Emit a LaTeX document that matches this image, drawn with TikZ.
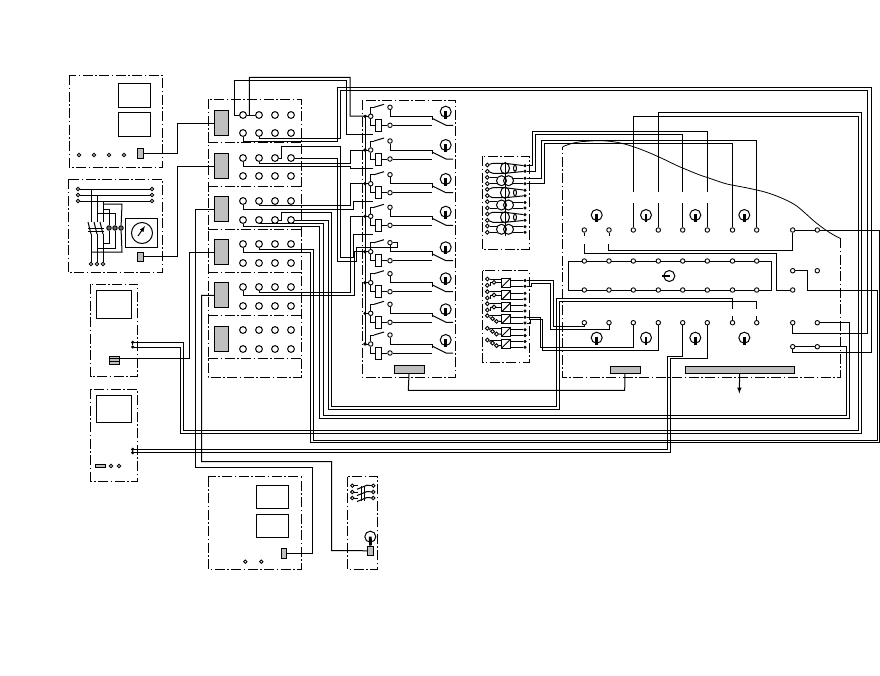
\documentclass[tikz,border=0pt]{standalone}
\tikzset{
 wire/.style={line width=1pt},
 dd/.style={line width=0.9pt,dash pattern=on 10pt off 2.5pt on 1.5pt off 2.5pt},
 term/.style={circle,draw,line width=0.9pt,fill=white,inner sep=0pt,minimum size=4.5pt},
 mterm/.style={circle,draw,line width=1pt,fill=white,inner sep=0pt,minimum size=6.8pt},
 dterm/.style={circle,draw,fill=black,inner sep=0pt,minimum size=2.8pt},
 lampc/.style={circle,draw,line width=1pt,inner sep=0pt,minimum size=11pt},
 stem/.style={line width=2.8pt},
 grayblk/.style={rectangle,draw,line width=0.9pt,fill=black!25,inner sep=0pt},
 sq/.style={draw,line width=1pt},
}
\begin{document}
\begin{tikzpicture}[x=1pt,y=-1pt]
\useasboundingbox[fill=white] (0,0) rectangle (880,675);
% ---- dash-dot boxes
\draw[dd] (69,75) rectangle (162,167);
\draw[dd] (68,179) rectangle (162,272);
\draw[dd] (90.7,284.3) rectangle (137.7,376.7);
\draw[dd] (90.7,389.3) rectangle (137.7,481);
\draw[dd] (208,99) rectangle (301,377);
\foreach \y in {142,186.5,229,272,315,358} \draw[dd] (208,\y) -- (301,\y);
\draw[dd] (362.3,100) rectangle (455,377);
\draw[dd] (482.7,156) rectangle (529,249.3);
\draw[dd] (482.7,270.7) rectangle (529,362.7);
\draw[dd] (208.3,476.7) rectangle (301,569.3);
\draw[dd] (347.3,476.7) rectangle (377.7,569.3);
\draw[dd] (840,238.3) -- (840,377.3) -- (562.7,377.3) -- (562.7,146.7);
\draw[line width=0.8pt] (562.7,146.7) .. controls (570,143.5) and (578,141.5) .. (586.7,141.3)
  .. controls (595,140.5) and (603,140.5) .. (610,141.3)
  .. controls (620,142.5) and (627,144.5) .. (633.3,146.7)
  .. controls (642,149.5) and (650,153) .. (658.3,156.7)
  .. controls (667,160.5) and (675,165) .. (683.3,168.3)
  .. controls (691,171.5) and (699,175) .. (706.7,177.3)
  .. controls (715,180) and (723,183.5) .. (731.7,185)
  .. controls (740,186.5) and (748,188) .. (756.7,190)
  .. controls (764,191.5) and (770,193.5) .. (776.7,196)
  .. controls (784,199) and (791,202) .. (796.7,206)
  .. controls (804,211.5) and (810,218) .. (816.7,223.3)
  .. controls (824,229) and (831,234) .. (840,238.3);
% ---- plain rectangles
\draw[sq] (118,83) rectangle (150,107);
\draw[sq] (118,112) rectangle (150,136);
\draw[sq] (96.7,290.7) rectangle (131.7,318.3);
\draw[sq] (96.7,395.3) rectangle (131.7,422.7);
\draw[sq] (256.7,485) rectangle (288.7,508.3);
\draw[sq] (256.7,514) rectangle (288.7,537.3);
\draw[sq] (125,218) rectangle (157,247);
\draw[sq] (568.3,261) rectangle (771,290);
% ---- gray blocks
\foreach \n/\y in {1/110,2/153,3/196,4/239,5/282,6/326}
  \draw[grayblk] (214,\y) rectangle (228,\y+25);
\node[grayblk,minimum width=6pt,minimum height=10pt] (conA) at (140,153) {};
\node[grayblk,minimum width=6pt,minimum height=9pt] (conB) at (140,256.5) {};
\node[grayblk,minimum width=10pt,minimum height=8.7pt] (conG) at (114.3,360.3) {};
\draw[wire] (109.3,358.3) -- (119.3,358.3) (109.3,361) -- (119.3,361);
\node[grayblk,minimum width=10.4pt,minimum height=3pt] (barF) at (100.5,465.8) {};
\node[grayblk,minimum width=5pt,minimum height=10pt] (conH) at (284.2,553.3) {};
\node[grayblk,minimum width=5.6pt,minimum height=9.7pt] (conI) at (370.5,550.8) {};
\node[grayblk,minimum width=30.3pt,minimum height=7.6pt] (barD) at (409.2,369.5) {};
\node[grayblk,minimum width=30pt,minimum height=7.4pt] (barJ) at (625,370) {};
\node[grayblk,minimum width=108.7pt,minimum height=7.4pt] (barK) at (739.7,370) {};
% ---- terminals of the main block
\foreach \s/\ya/\yb in {1/115/133,2/158/176,3/201/220,4/244/263,5/287/306,6/330/349}
 \foreach \c/\x in {1/243,2/259,3/275,4/291}{
  \node[mterm] (m\s a\c) at (\x,\ya) {};
  \node[mterm] (m\s b\c) at (\x,\yb) {};
 }
% ---- box A, B small terminals
\foreach \n/\x in {1/79,2/94,3/109,4/124} \node[term,minimum size=3.4pt] (ta\n) at (\x,155) {};
\foreach \n/\y in {1/189,2/195,3/201}{
  \node[term,minimum size=3.4pt] (bl\n) at (78,\y) {};
  \node[term,minimum size=3.4pt] (br\n) at (152,\y) {};
  \draw[wire] (bl\n) -- (br\n);
}
\foreach \n/\x in {1/91,2/97,3/103} \node[term,minimum size=3.4pt] (bb\n) at (\x,264) {};
\foreach \n/\x in {1/109,2/115,3/121} \node[term,minimum size=4.5pt,fill=black!60] (bc\n) at (\x,228) {};
\foreach \n/\x in {1/91,2/97,3/103}{
  \draw[wire] (\x,\ifnum\n=1 189\else\ifnum\n=2 195\else 201\fi\fi) -- (\x,222);
  \draw[wire] (\x-3,222) -- (\x,234);
  \draw[wire] (\x,234) -- (bb\n);
}
\draw[wire] (88,228) -- (104,228) (88,231) -- (104,231);
\draw[wire] (103,204) -- (122,204) -- (bc3) -- (122,252) -- (91,252);
\draw[wire] (97,213) -- (115,213) -- (bc2) -- (115,248) -- (97,248);
\draw[wire] (103,209) -- (109,209) -- (bc1) -- (109,243) -- (103,243);
\node[circle,draw,line width=1pt,inner sep=0pt,minimum size=21pt] (dial) at (142,233) {};
\draw[wire,->,>=latex] (138,236) -- (145,226);
% ---- wires of boxes A, B, G, H, I to the gray blocks
\coordinate (gi1) at (214,123); \coordinate (gi2) at (214,166);
\coordinate (gi3) at (214,209); \coordinate (gi4) at (214,252);
\coordinate (gi5) at (214,295.3);
\draw[wire] (conA) -- (177,153) -- (177,123) -- (gi1);
\draw[wire] (conB) -- (177,256.5) -- (177,166) -- (gi2);
\draw[wire] (conG.east) ++(0,-2) -- (189.3,358.3) -- (189.3,252) -- (gi4);
\draw[wire] (gi3) -- (195,209) -- (195,467.5) -- (312.7,467.5) -- (312.7,553.3) -- (conH);
\draw[wire] (gi5) -- (201.7,295.3) -- (201.7,461.5) -- (331.7,461.5) -- (331.7,550.5) -- (conI);
% ---- box G, F, H, I terminals
\node[dterm] (g1) at (132.7,342.3) {};
\node[dterm] (g2) at (132.7,347) {};
\draw[wire] (g1) -- (g2);
\node[dterm] (f1) at (132.7,449.3) {};
\node[dterm] (f2) at (132.7,452.7) {};
\node[term,minimum size=3.4pt] (f3) at (111,466) {};
\node[term,minimum size=3.4pt] (f4) at (119,466) {};
\node[term,minimum size=3.4pt] (h1) at (245.3,561.7) {};
\node[term,minimum size=3.4pt] (h2) at (261.3,561.7) {};
\foreach \n/\y in {1/485.7,2/492,3/498}{
  \node[term,minimum size=3.4pt] (il\n) at (352.3,\y) {};
  \node[term,minimum size=3.4pt] (ir\n) at (373.3,\y) {};
  \draw[wire] (il\n) -- (358,\y);
  \draw[wire] (357,\y+3.5) -- (367,\y-0.5) -- (ir\n);
}
\draw[wire] (361,486) -- (361,501) (364,486) -- (364,501);
\node[lampc] (lampI) at (370.3,536.7) {};
\draw[stem] (lampI.center) -- (conI.north);
% ---- relays
\draw[wire] (365,116) -- (365,344);
\foreach \n/\yo/\ly in {1/107.3/111.7,2/141/145,3/174.7/179,4/207.3/211.7,5/242.7/247.3,6/273.7/278.3,7/304.3/309.3,8/335/340}{
  \pgfmathsetmacro\ya{\yo+9}
  \pgfmathsetmacro\yb{\yo+18}
  \pgfmathsetmacro\yc{\yo+12}
  \pgfmathsetmacro\yd{\yo+24}
  \pgfmathsetmacro\ye{\yo+13}
  \pgfmathsetmacro\yf{\yo+11}
  \pgfmathsetmacro\yg{\yo-3}
  \pgfmathsetmacro\yh{\ly+7}
  \pgfmathsetmacro\yi{\ly-1}
  \node[term] (rt\n) at (390,\yo) {};
  \node[term] (rl\n) at (370.7,\ya) {};
  \node[term] (rb\n) at (390,\yb) {};
  \draw[wire] (rl\n) -- (365,\ya);
  \draw[wire] (rl\n) -- (370.7,\yo) -- (374,\yo);
  \draw[wire] (374,\yo) -- (384,\yg);
  \draw[wire] (rt\n) -- (390,\ya) -- (432,\ya) -- (432,\ye);
  \draw[wire] (432,\yf) -- (446,\yb) -- (453,\yb);
  \draw[wire] (rb\n) -- (432,\yb);
  \draw[sq] (375,\yc) rectangle (381,\yd);
  \draw[wire] (rl\n) -- (370.7,\yb) -- (375,\yb);
  \draw[wire] (381,\yb) -- (rb\n);
  \node[lampc] (rlamp\n) at (445.7,\ly) {};
  \draw[stem] (445.7,\yi) -- (445.7,\yh);
  \fill (365,\ya) circle (1.8pt);
}
% ---- module E (upper, coils)
\draw[wire] (505,162) -- (505,236);
\foreach \n/\y/\t in {1/168.3/0,2/180.7/1,3/192.7/0,4/205/1,5/217.3/0,6/229.3/1}{
  \pgfmathsetmacro\yu{\y-3.3}
  \pgfmathsetmacro\yv{\y+3}
  \pgfmathsetmacro\yw{\y-2.5}
  \pgfmathsetmacro\yup{\y-5}
  \pgfmathsetmacro\ydn{\y+5}
  \node[term,minimum size=3.8pt] (el\n a) at (487.3,\yu) {};
  \node[term,minimum size=3.8pt] (el\n b) at (487.3,\yv) {};
  \node[dterm] (er\n a) at (525,\yw) {};
  \node[dterm] (er\n b) at (525,\yv) {};
  \ifnum\t=0
    \draw[wire] (505,\y) ellipse (4.5pt and 5.5pt);
    \draw[wire] (515,\y) ellipse (1.5pt and 3pt);
    \draw[wire] (el\n a) -- (493,\yup) -- (505,\yup) -- (er\n a);
    \draw[wire] (el\n b) -- (493,\ydn) -- (505,\ydn) -- (er\n b);
  \else
    \draw[wire] (501.5,\y) circle (5pt) (508.5,\y) circle (5pt);
    \draw[wire] (el\n a) -- (497,\yu);
    \draw[wire] (el\n b) -- (497,\yv);
    \draw[wire] (513,\yw) -- (er\n a);
    \draw[wire] (513,\yv) -- (er\n b);
  \fi
}
% ---- module E2 (lower, converters)
\foreach \n/\y/\t in {1/278/0,2/290.7/0,3/302.7/0,4/314.7/1,5/327.3/1,6/339/1}{
  \draw[sq] (501.7,\y) rectangle (510.7,\y+9);
  \draw[wire] (501.7,\y+9) -- (510.7,\y);
  \node[dterm] (xr\n a) at (525,\y+2.5) {};
  \node[dterm] (xr\n b) at (525,\y+8.3) {};
  \draw[wire] (510.7,\y+2.5) -- (xr\n a);
  \draw[wire] (510.7,\y+8.3) -- (xr\n b);
  \node[term,minimum size=3.8pt] (xl\n a) at (487.3,\y+1) {};
  \draw[wire] (xl\n a) -- (501.7,\y+1);
  \ifnum\t=0
    \node[term,minimum size=3.8pt] (xl\n b) at (487.3,\y+7.3) {};
    \node[term,minimum size=3.8pt] (xs\n a) at (494,\y+4.3) {};
    \draw[wire] (xl\n b) -- (490,\y+7.3) -- (490,\y+4.3) -- (xs\n a) -- (501.7,\y+4.3);
  \else
    \node[term,minimum size=3.8pt] (xs\n a) at (492.5,\y+4) {};
    \node[term,minimum size=3.8pt] (xs\n b) at (496.5,\y+6.7) {};
    \draw[wire] (xl\n a) -- (xs\n a) -- (xs\n b) -- (501.7,\y+6.7);
  \fi
}
% ---- big panel terminals
\foreach \r/\y in {a/230,b/261,c/290,d/322.7}
 \foreach \n/\x in {1/584.3,2/609,3/633.3,4/658.3,5/682.7,6/707.3,7/732.5,8/756.7}
   \node[term] (\r\n) at (\x,\y) {};
\node[term] (p1) at (792.7,230) {}; \node[term] (p2) at (817.3,230) {};
\node[term] (q1) at (792.7,270.7) {}; \node[term] (q2) at (817.3,270.7) {};
\node[term] (s1) at (792.7,290) {};
\node[term] (u1) at (792.7,322.7) {}; \node[term] (u2) at (817.3,322.7) {};
\node[term] (v1) at (792.7,346.7) {}; \node[term] (v2) at (817.3,346.7) {};
\foreach \n/\x in {1/596.7,2/646,3/695.3,4/744.3}{
  \node[lampc] (la\n) at (\x,215) {};
  \draw[stem] (\x,214) -- (\x,222);
  \node[lampc] (lb\n) at (\x,337.7) {};
  \draw[stem] (\x,336.7) -- (\x,345);
}
\node[lampc] (mot) at (669.3,276) {};
\draw[stem] (670,276) -- (662,276);
% ---- long wires: top of main block to relays
\draw[wire] (m1a1) -- (234.3,115) -- (234.3,80.3) -- (346.7,80.3) -- (346.7,134) -- (373,134);
\draw[wire] (m1a1) -- (m1a2);
\draw[wire] (249.3,115) -- (249.3,77.3) -- (350,77.3) -- (350,116) -- (rl1);
\draw[wire] (m1b1) -- (243,141.7) -- (337.7,141.7) -- (337.7,87.3) -- (871,87.3) -- (871,352.3) -- (792.7,352.3) -- (v1);
\draw[wire] (m1b2) -- (259,138.3) -- (340.7,138.3) -- (340.7,90.7) -- (867.7,90.7) -- (867.7,333.3) -- (792.7,333.3) -- (u1);
\draw[wire] (m2a4) -- (337.3,158) -- (337.3,261) -- (356.7,261) -- (356.7,247.5) -- (397.7,247.5) -- (397.7,242.7) -- (rt5);
\draw[wire] (m2a3) -- (281.7,158) -- (281.7,146.7) -- (340.7,146.7) -- (340.7,257.3) -- (353.3,257.3) -- (353.3,234.3) -- (373,234.3);
\draw[wire] (m2a2) -- (259,163.3) -- (350,163.3) -- (350,150) -- (rl2);
\draw[wire] (m2a1) -- (243,166) -- (350,166) -- (350,168.3) -- (373,168.3);
\draw[wire] (m3a2) -- (259,205.7) -- (350,205.7) -- (350,183.7) -- (rl3);
\draw[wire] (m3a1) -- (243,209.3) -- (353.3,209.3) -- (353.3,201.7) -- (373,201.7);
\draw[wire] (m3b4) -- (328.3,220) -- (328.3,409.3) -- (559.3,409.3) -- (559.3,301.7) -- (756.7,301.7) -- (756.7,309);
\draw[wire] (d8) -- (756.7,315.5);
\draw[wire] (m3b3) -- (281.7,220) -- (281.7,212.7) -- (331.7,212.7) -- (331.7,406.7) -- (556.7,406.7) -- (556.7,298.3) -- (732.5,298.3) -- (732.5,309);
\draw[wire] (d7) -- (732.5,315.5);
\draw[wire] (m3b2) -- (259,223.3) -- (323.3,223.3) -- (323.3,415.3) -- (846.7,415.3) -- (846.7,346.7) -- (v2);
\draw[wire] (m3b1) -- (243,226.7) -- (319.3,226.7) -- (319.3,418.3) -- (849.3,418.3) -- (849.3,322.7) -- (u2);
\draw[wire] (m4a2) -- (259,249) -- (313.3,249) -- (313.3,440) -- (877.7,440) -- (877.7,290) -- (807.7,290) -- (807.7,270.7) -- (q1);
\draw[wire] (m4a1) -- (243,252.3) -- (310,252.3) -- (310,442.7) -- (879.3,442.7) -- (879.3,230) -- (p2);
\draw[wire] (p1) -- (p2);
\draw[wire] (m5a2) -- (259,292.7) -- (350,292.7) -- (350,216.3) -- (rl4);
\draw[wire] (m5a1) -- (243,295.7) -- (354,295.7) -- (354,251.7) -- (rl5);
% ---- big panel wires
\draw[wire] (a3) -- (633.3,203) (633.3,191.7) -- (633.3,116) -- (858.3,116) -- (858.3,430.7) -- (183.3,430.7) -- (183.3,342.3) -- (g1);
\draw[wire] (a4) -- (658.3,203) (658.3,191.7) -- (658.3,112.7) -- (861.3,112.7) -- (861.3,433.3) -- (180.3,433.3) -- (180.3,347) -- (g2);
\draw[wire] (a5) -- (682.7,203) (682.7,191.7) -- (682.7,134.5) -- (535,134.5) -- (535,171.3) -- (er1b);
\draw[wire] (a6) -- (707.3,203) (707.3,191.7) -- (707.3,131.7) -- (532,131.7) -- (532,165.8) -- (er1a);
\draw[wire] (a7) -- (732.5,143.3) -- (544,143.3) -- (544,183.7) -- (er2b);
\draw[wire] (a8) -- (756.7,140.7) -- (541,140.7) -- (541,178.2) -- (er2a);
\draw[wire] (a1) -- (584.3,236) (a2) -- (609,236);
\draw[wire] (p1) -- (792.7,250.7) -- (608.3,250.7) -- (608.3,244);
\draw[wire] (584.3,244) -- (584.3,253.3) -- (776.7,253.3) -- (776.7,290) -- (s1);
\draw[wire] (d1) -- (584.3,326.7) -- (553.3,326.7) -- (553.3,280.5) -- (xr1a);
\draw[wire] (d2) -- (609,329.3) -- (550,329.3) -- (550,283.3) -- (531,283.3) -- (531,286.3) -- (xr1b);
\draw[wire] (d3) -- (633.3,347.3) -- (540,347.3) -- (540,317.2) -- (xr4a);
\draw[wire] (d4) -- (658.3,350.3) -- (542.7,350.3) -- (542.7,319.5) -- (530,319.5) -- (530,323) -- (xr4b);
\draw[wire] (d5) -- (682.7,356) -- (667.3,356) -- (667.3,449.3) -- (f1);
\draw[wire] (d6) -- (707.3,358.7) -- (670.3,358.7) -- (670.3,452.7) -- (f2);
\draw[wire] (v1) -- (v2);
\draw[wire] (barD) -- (408.3,390.3) -- (624.7,390.3) -- (barJ);
\coordinate (arrowEnd) at (739.3,393.5);
\draw[wire,-{latex}] (barK) -- (arrowEnd);
\end{tikzpicture}
\end{document}
